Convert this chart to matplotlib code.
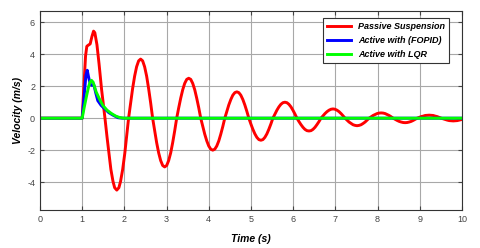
import numpy as np
import matplotlib.pyplot as plt

plt.rcParams['font.family'] = ['Liberation Sans', 'DejaVu Sans']
plt.rcParams['axes.unicode_minus'] = False

# passive suspension
t_passive = [0, 1.0, 1.04, 1.08, 1.11, 1.15, 1.19, 1.23, 1.27, 1.30, 1.35, 1.40, 1.46, 1.54,
             1.59, 1.64, 1.68, 1.73, 1.77, 1.82, 1.87, 1.91, 1.96, 2.01, 2.05, 2.10,
             2.148, 2.195, 2.243, 2.29, 2.338, 2.385, 2.433, 2.48, 2.528, 2.575, 2.623, 2.67,
             2.718, 2.765, 2.813, 2.86, 2.908, 2.955, 3.003, 3.05, 3.098, 3.145, 3.193, 3.24,
             3.288, 3.335, 3.383, 3.43, 3.478, 3.525, 3.573, 3.62, 3.668, 3.715, 3.763, 3.81,
             3.858, 3.905, 3.953, 4.0, 4.048, 4.095, 4.143, 4.19, 4.238, 4.285, 4.333, 4.38,
             4.428, 4.475, 4.523, 4.57, 4.618, 4.665, 4.713, 4.76, 4.808, 4.855, 4.903, 4.95,
             4.998, 5.045, 5.093, 5.14, 5.188, 5.235, 5.283, 5.33, 5.378, 5.425, 5.473, 5.52,
             5.568, 5.615, 5.663, 5.71, 5.758, 5.805, 5.853, 5.90, 5.948, 5.995, 6.043, 6.09,
             6.138, 6.185, 6.233, 6.28, 6.328, 6.375, 6.423, 6.47, 6.518, 6.565, 6.613, 6.66,
             6.708, 6.755, 6.803, 6.85, 6.898, 6.945, 6.993, 7.04, 7.088, 7.135, 7.183, 7.23,
             7.278, 7.325, 7.373, 7.42, 7.468, 7.515, 7.563, 7.61, 7.658, 7.705, 7.753, 7.80,
             7.848, 7.895, 7.943, 7.99, 8.038, 8.085, 8.133, 8.18, 8.228, 8.275, 8.323, 8.37,
             8.418, 8.465, 8.513, 8.56, 8.608, 8.655, 8.703, 8.75, 8.798, 8.845, 8.893, 8.94,
             8.988, 9.035, 9.083, 9.13, 9.178, 9.225, 9.273, 9.32, 9.368, 9.415, 9.463, 9.51,
             9.558, 9.605, 9.653, 9.70, 9.748, 9.795, 9.843, 9.89, 9.938, 9.985, 10.0]
v_passive = [0, 0, 2.0, 3.9, 4.5, 4.58, 4.65, 5.1, 5.45, 5.35, 4.6, 3.4, 1.8, 0,
             -1.2, -2.3, -3.2, -3.95, -4.35, -4.5, -4.35, -3.95, -3.2, -2.2, -1.2, 0,
             0.96, 1.85, 2.63, 3.22, 3.59, 3.7, 3.59, 3.22, 2.63, 1.85, 0.96, 0,
             -0.79, -1.53, -2.17, -2.65, -2.96, -3.05, -2.96, -2.65, -2.17, -1.53, -0.79, 0,
             0.65, 1.25, 1.78, 2.18, 2.43, 2.5, 2.43, 2.18, 1.78, 1.25, 0.65, 0,
             -0.52, -1.0, -1.42, -1.74, -1.94, -2.0, -1.94, -1.74, -1.42, -1.0, -0.52, 0,
             0.43, 0.83, 1.17, 1.44, 1.6, 1.65, 1.6, 1.44, 1.17, 0.83, 0.43, 0,
             -0.36, -0.69, -0.98, -1.2, -1.34, -1.38, -1.34, -1.2, -0.98, -0.69, -0.36, 0,
             0.26, 0.5, 0.71, 0.87, 0.97, 1.0, 0.97, 0.87, 0.71, 0.5, 0.26, 0,
             -0.21, -0.4, -0.57, -0.7, -0.78, -0.8, -0.78, -0.7, -0.57, -0.4, -0.21, 0,
             0.15, 0.29, 0.41, 0.5, 0.56, 0.58, 0.56, 0.5, 0.41, 0.29, 0.15, 0,
             -0.12, -0.24, -0.33, -0.41, -0.45, -0.47, -0.45, -0.41, -0.33, -0.24, -0.12, 0,
             0.09, 0.17, 0.23, 0.29, 0.32, 0.33, 0.32, 0.29, 0.23, 0.17, 0.09, 0,
             -0.07, -0.14, -0.2, -0.24, -0.27, -0.28, -0.27, -0.24, -0.2, -0.14, -0.07, 0,
             0.05, 0.1, 0.13, 0.17, 0.18, 0.19, 0.18, 0.17, 0.13, 0.1, 0.05, 0,
             -0.04, -0.085, -0.12, -0.15, -0.16, -0.17, -0.16, -0.15, -0.12, -0.09, -0.08]

# active with FOPID
t_fopid = [0, 1.0, 1.05, 1.09, 1.12, 1.15, 1.19, 1.22, 1.28, 1.32, 1.37, 1.45, 1.53,
           1.63, 1.73, 1.85, 1.95, 10.0]
v_fopid = [0, 0, 1.5, 2.7, 3.0, 2.6, 2.15, 2.06, 2.06, 1.6, 1.1, 0.8, 0.6,
           0.35, 0.19, 0.03, 0, 0]

# active with LQR
t_lqr = [0, 1.0, 1.05, 1.10, 1.15, 1.19, 1.22, 1.26, 1.33, 1.41, 1.49, 1.59,
         1.69, 1.79, 1.89, 2.0, 10.0]
v_lqr = [0, 0, 0.7, 1.35, 1.95, 2.28, 2.37, 2.25, 1.65, 1.2, 0.8, 0.5,
         0.3, 0.14, 0.04, 0, 0]

fig = plt.figure(figsize=(4.8, 2.48), dpi=100)
ax = fig.add_axes([0.0833, 0.153, 0.879, 0.802])

ax.plot(t_passive, v_passive, color='#ff0000', lw=2.1, label='Passive Suspension')
ax.plot(t_fopid, v_fopid, color='#0000ff', lw=2.1, label='Active with (FOPID)')
ax.plot(t_lqr, v_lqr, color='#00ff00', lw=2.1, label='Active with LQR')

ax.set_xlim(0, 10)
ax.set_ylim(-5.75, 6.7)
ax.set_xticks(range(0, 11))
ax.set_yticks([-4, -2, 0, 2, 4, 6])
ax.grid(True, color='#a8a8a8', lw=0.8)
ax.tick_params(direction='in', top=True, right=True, labelsize=6.5,
               labelcolor='#444444', length=3, color='#444444')
for s in ax.spines.values():
    s.set_color('#333333')
    s.set_linewidth(0.8)

ax.set_xlabel('Time (s)', fontsize=7.5, fontweight='bold', style='italic', labelpad=7)
ax.set_ylabel('Velocity (m/s)', fontsize=7.5, fontweight='bold', style='italic', labelpad=3)

leg = ax.legend(loc='upper right', bbox_to_anchor=(0.969, 0.965), borderaxespad=0,
                fancybox=False, framealpha=1, edgecolor='#333333', handlelength=2.6,
                prop={'size': 6.5, 'weight': 'bold', 'style': 'italic'},
                borderpad=0.45, labelspacing=0.55)
leg.get_frame().set_linewidth(0.8)

fig.savefig('out.png', dpi=100)
